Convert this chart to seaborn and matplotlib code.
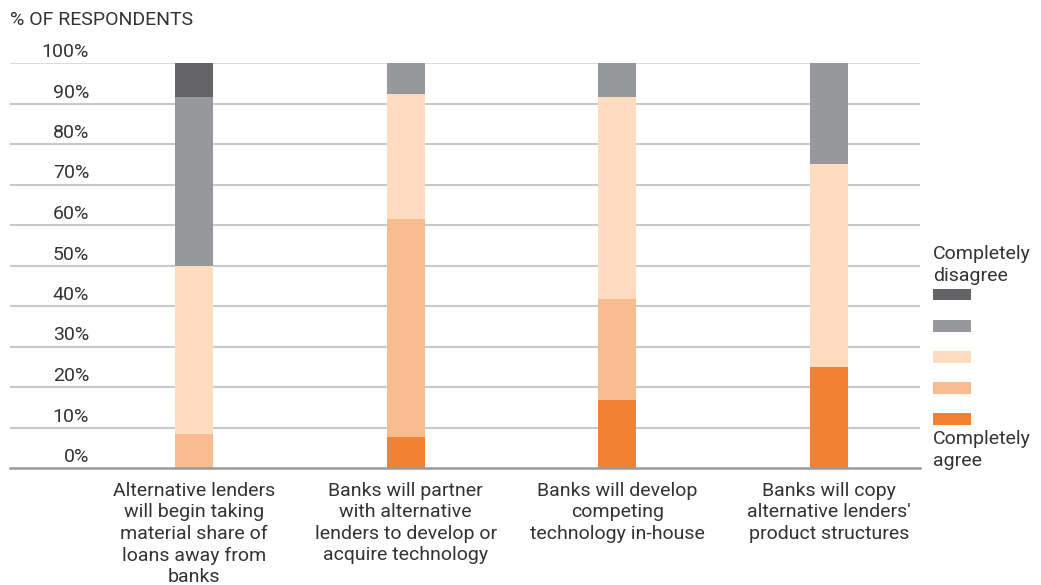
import matplotlib
matplotlib.use("Agg")
import matplotlib.pyplot as plt
from matplotlib.patches import Patch
from matplotlib.transforms import ScaledTranslation
import numpy as np
import pandas as pd
import seaborn as sns

# Survey statements and share of respondents (%) per answer
categories = [
    "Alternative lenders\nwill begin taking\nmaterial share of\nloans away from\nbanks",
    "Banks will partner\nwith alternative\nlenders to develop or\nacquire technology",
    "Banks will develop\ncompeting\ntechnology in-house",
    "Banks will copy\nalternative lenders'\nproduct structures",
]
completely_agree = [0.0, 7.7, 16.7, 25.0]
agree = [8.3, 53.8, 25.0, 0.0]
neutral = [41.7, 30.8, 50.0, 50.0]
disagree = [41.7, 7.7, 8.3, 25.0]
completely_disagree = [8.3, 0.0, 0.0, 0.0]

y_ticks = [0, 10, 20, 30, 40, 50, 60, 70, 80, 90, 100]
y_tick_labels = [f"{t}%" for t in y_ticks]

series = [completely_agree, agree, neutral, disagree, completely_disagree]
colors = ["#F28232", "#F9BC8E", "#FDDCC0", "#97989B", "#646466"]

sns.set_theme(style="white")
plt.rcParams["font.family"] = ["Roboto", "DejaVu Sans"]
TEXT = "#333333"
FS = 14
LS = 1.25

fig = plt.figure(figsize=(10.41, 5.85), dpi=100)
ax = fig.add_axes([10 / 1041, 117 / 585, 910 / 1041, 405 / 585])

# Stacked bars: draw cumulative totals from the top segment down
cum = np.cumsum(np.array(series), axis=0)
df = pd.DataFrame({"category": categories})
for level in range(len(series) - 1, -1, -1):
    df["value"] = cum[level]
    sns.barplot(data=df, x="category", y="value", color=colors[level],
                width=0.18, saturation=1, ax=ax, zorder=2,
                edgecolor="none", linewidth=0)

ax.set_xlim(-0.87, 3.43)
ax.set_ylim(0, 100)
ax.set_xlabel("")
ax.set_ylabel("")

# Horizontal guides
ax.set_axisbelow(True)
for t in y_ticks[1:]:
    ax.axhline(t, color="#C9C9CB" if t < 100 else "#DCDCDC", lw=1.5, zorder=1)
for s in ["top", "right", "left"]:
    ax.spines[s].set_visible(False)
ax.spines["bottom"].set_color("#9A9A9E")
ax.spines["bottom"].set_linewidth(1.8)
ax.spines["bottom"].set_zorder(3)

ax.set_yticks(y_ticks)
ax.set_yticklabels(y_tick_labels)
ax.tick_params(axis="y", length=0, pad=-57, labelsize=FS, labelcolor=TEXT)
shift = ScaledTranslation(0, 13 / 100, fig.dpi_scale_trans)
for lab in ax.get_yticklabels():
    lab.set_horizontalalignment("right")
    lab.set_transform(lab.get_transform() + shift)

ax.tick_params(axis="x", length=0, pad=10, labelsize=FS, labelcolor=TEXT)
for lab in ax.get_xticklabels():
    lab.set_linespacing(LS)
    lab.set_verticalalignment("top")

fig.text(10 / 1041, 1 - 20 / 585, "% OF RESPONDENTS", fontsize=FS, color=TEXT,
         ha="left", va="center")

# Legend, ordered from "Completely disagree" at the top to "Completely agree"
handles = [Patch(facecolor=c, edgecolor="none") for c in colors[::-1]]
leg = fig.legend(handles, [""] * 5,
                 loc="upper left", bbox_to_anchor=(927 / 1041, 1 - 283 / 585),
                 frameon=False, fontsize=8,
                 handlelength=38 / 11.1, handleheight=14 / 11.1,
                 labelspacing=1.74, handletextpad=0, borderpad=0,
                 alignment="left")

fig.text(933 / 1041, 1 - 245 / 585, "Completely\ndisagree", fontsize=FS,
         color=TEXT, ha="left", va="top", linespacing=LS)
fig.text(933 / 1041, 1 - 430 / 585, "Completely\nagree", fontsize=FS,
         color=TEXT, ha="left", va="top", linespacing=LS)

fig.savefig("out.png", dpi=100, facecolor="white")
